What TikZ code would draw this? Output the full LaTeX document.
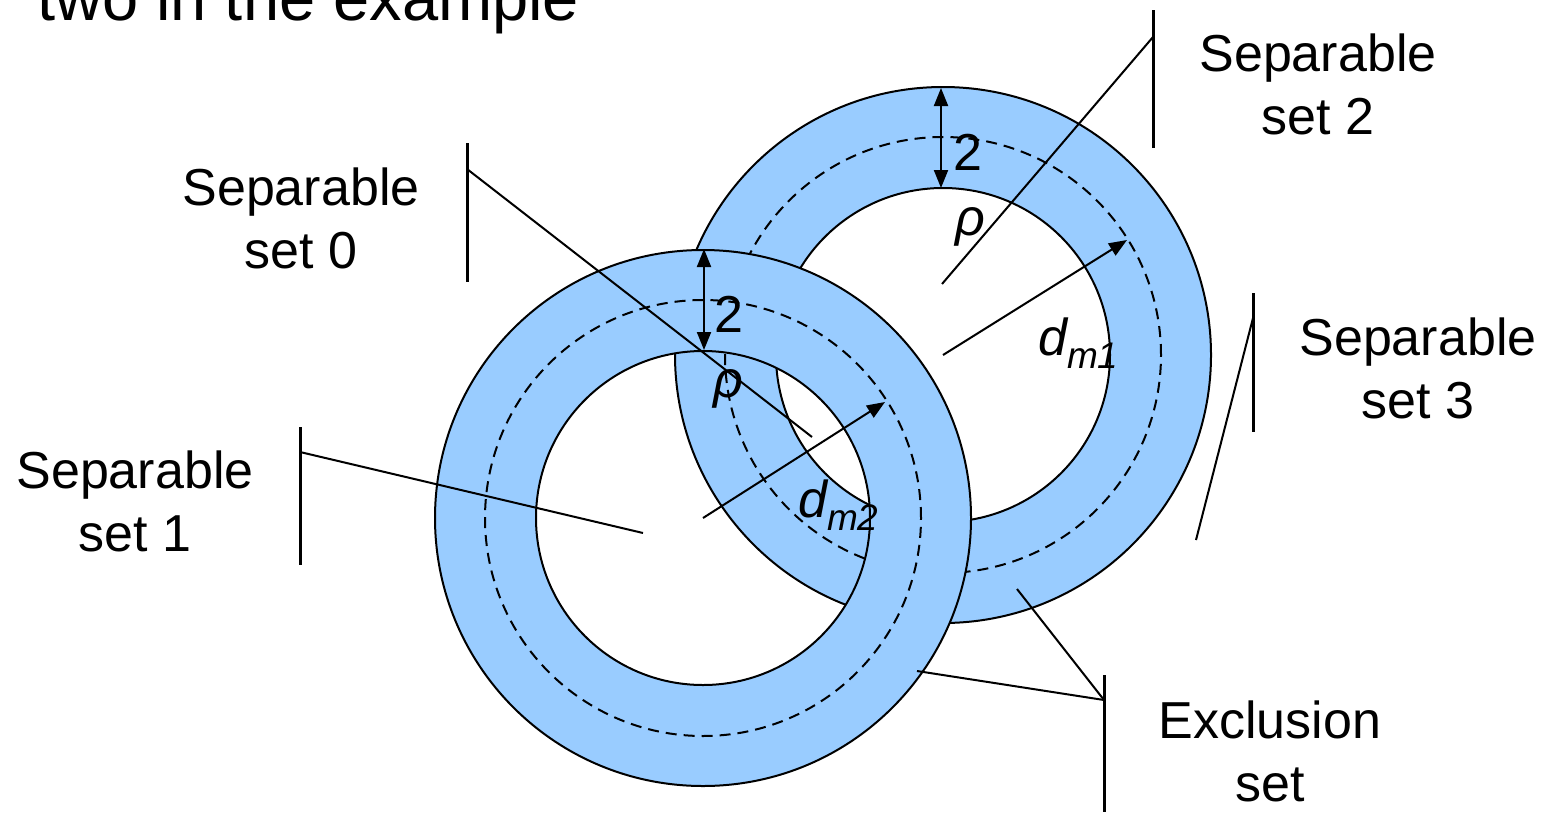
\documentclass[tikz,border=0pt]{standalone}
\usepackage{fontspec}
\setmainfont{Liberation Sans}
\usetikzlibrary{arrows.meta}
\definecolor{ringblue}{HTML}{99CCFF}
\begin{document}
\begin{tikzpicture}[x=1pt,y=-1pt,
  ringline/.style={line width=2pt},
  dashring/.style={line width=2pt, dash pattern=on 11pt off 7pt},
  leader/.style={line width=2pt},
  bar/.style={line width=3pt},
  dimarrow/.style={line width=2pt, -{Triangle[length=18pt,width=14pt]}},
  dimboth/.style={line width=2pt, {Triangle[length=18pt,width=14pt]}-{Triangle[length=18pt,width=14pt]}},
  lbl/.style={font=\fontsize{52}{63}\selectfont, align=center, inner sep=0pt, anchor=base},
  sym/.style={font=\fontsize{52}{63}\selectfont, inner sep=0pt, anchor=base},
  dm/.style={font=\fontsize{52}{63}\selectfont\itshape, inner sep=0pt, anchor=base west}
]
\clip (0,0) rectangle (1544,814);
\node[font=\fontsize{65}{70}\selectfont, anchor=base west, inner sep=0pt] (title) at (37,20) {two in the example};

% ring 2 (upper right)
\coordinate (c2) at (943,355);
\fill[ringblue, even odd rule] (c2) circle[radius=268pt] (c2) circle[radius=167pt];
\draw[ringline] (c2) circle[radius=268pt];
\draw[ringline] (c2) circle[radius=167pt];
\draw[dashring] (c2) circle[radius=218pt];

% ring 1 (lower left)
\coordinate (c1) at (703,518);
\fill[ringblue, even odd rule] (c1) circle[radius=268pt] (c1) circle[radius=167pt];
\draw[ringline] (c1) circle[radius=268pt];
\draw[ringline] (c1) circle[radius=167pt];
\draw[dashring] (c1) circle[radius=218pt];

% dimension arrows
\coordinate (t2a) at (941,88);
\coordinate (t2b) at (941,188);
\draw[dimboth] (t2a) -- (t2b);
\coordinate (t1a) at (704,249);
\coordinate (t1b) at (704,350);
\draw[dimboth] (t1a) -- (t1b);
\coordinate (d1e) at (1127,240);
\draw[dimarrow] (c2) -- (d1e);
\coordinate (d2e) at (885,402);
\draw[dimarrow] (c1) -- (d2e);

\node[sym] (two2) at (968,170) {2};
\node[sym] (two1) at (729,332) {2};
\node[sym] (rho2) at (970,235) {\itshape ρ};
\node[sym] (rho1) at (728,397) {\itshape ρ};
\node[dm] (dm1) at (1038,355) {d\raisebox{-13pt}{\fontsize{37}{37}\selectfont m1}};
\node[dm] (dm2) at (798,517) {d\raisebox{-13pt}{\fontsize{37}{37}\selectfont m2}};

% separable set 0
\coordinate (b0t) at (467,143); \coordinate (b0b) at (467,282);
\coordinate (l0s) at (467,169); \coordinate (l0e) at (812,437);
\draw[bar] (b0t) -- (b0b);
\draw[leader] (l0s) -- (l0e);
\node[lbl] (s0) at (301,268) {Separable\\set 0};

% separable set 1
\coordinate (b1t) at (300,427); \coordinate (b1b) at (300,565);
\coordinate (l1s) at (300,452); \coordinate (l1e) at (643,533);
\draw[bar] (b1t) -- (b1b);
\draw[leader] (l1s) -- (l1e);
\node[lbl] (s1) at (135,551) {Separable\\set 1};

% separable set 2
\coordinate (b2t) at (1153,10); \coordinate (b2b) at (1153,148);
\coordinate (l2s) at (1153,37); \coordinate (l2e) at (942,284);
\draw[bar] (b2t) -- (b2b);
\draw[leader] (l2s) -- (l2e);
\node[lbl] (s2) at (1318,134) {Separable\\set 2};

% separable set 3
\coordinate (b3t) at (1253,293); \coordinate (b3b) at (1253,432);
\coordinate (l3s) at (1253,318); \coordinate (l3e) at (1196,540);
\draw[bar] (b3t) -- (b3b);
\draw[leader] (l3s) -- (l3e);
\node[lbl] (s3) at (1418,418) {Separable\\set 3};

% exclusion set
\coordinate (bxt) at (1104,675); \coordinate (bxb) at (1104,812);
\coordinate (lxs) at (1104,700);
\coordinate (lxa) at (1017,589); \coordinate (lxb) at (917,671);
\draw[bar] (bxt) -- (bxb);
\draw[leader] (lxs) -- (lxa);
\draw[leader] (lxs) -- (lxb);
\node[lbl] (sx) at (1270,801) {Exclusion\\set};
\end{tikzpicture}
\end{document}
